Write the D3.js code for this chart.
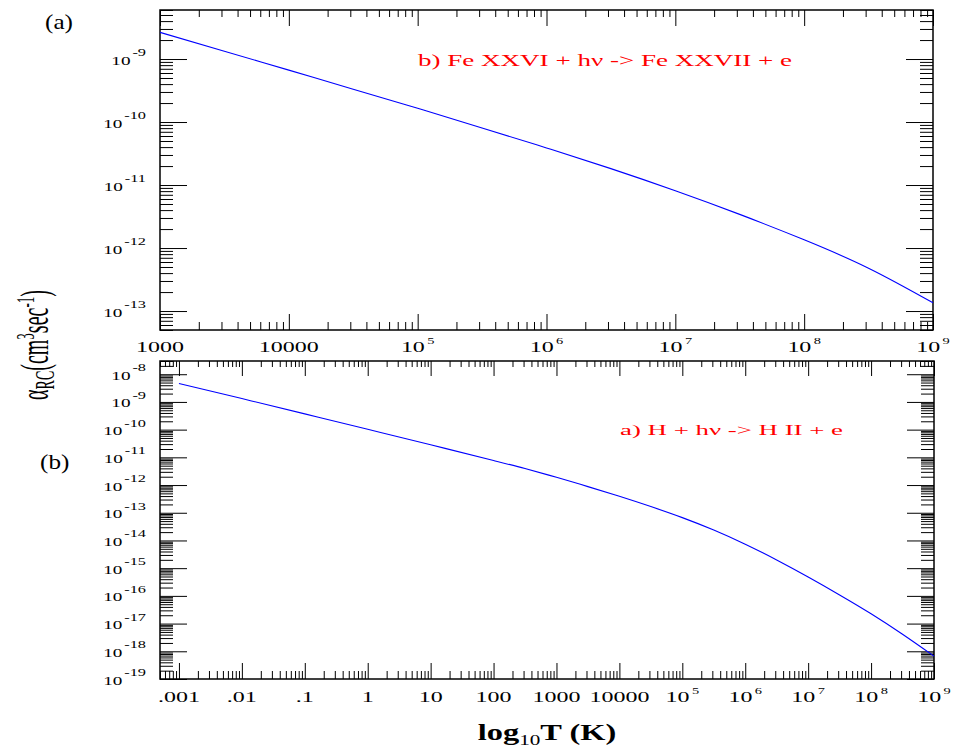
<!DOCTYPE html>
<html><head><meta charset="utf-8">
<script src="https://cdn.jsdelivr.net/npm/d3@7"></script>
<style>body{margin:0;background:#fff}svg{display:block}</style>
</head><body>
<svg id="c" width="957" height="749"></svg>
<script>
// ---- data ----
const feTemp  = [1e3, 3.16e3, 1e4, 3.16e4, 1e5, 3.16e5, 1e6, 3.16e6, 1e7, 3.16e7, 1e8, 3.16e8, 1e9];
const feAlpha = [2.65e-9, 1.33e-9, 6.67e-10, 3.32e-10, 1.65e-10, 8.06e-11, 3.88e-11, 1.82e-11, 8.11e-12, 3.42e-12, 1.35e-12, 4.78e-13, 1.35e-13];

const hTemp  = [1e-3, 1e-2, 1e-1, 1, 10, 100, 316, 1e3, 3.16e3, 1e4, 3.16e4, 1e5, 3.16e5, 1e6, 3.16e6, 1e7, 3.16e7, 1e8, 3.16e8, 1e9];
const hAlpha = [4.61e-9, 1.32e-9, 3.71e-10, 1.03e-10, 2.84e-11, 7.66e-12, 3.93e-12, 1.90e-12, 8.79e-13, 3.93e-13, 1.67e-13, 6.67e-14, 2.37e-14, 7.31e-15, 1.97e-15, 4.78e-16, 1.08e-16, 2.26e-17, 4.11e-18, 6.67e-19];

const topXTickValues = [1e3, 1e4, 1e5, 1e6, 1e7, 1e8, 1e9];
const topXTickLabels = ["1000", "10000", "10^5", "10^6", "10^7", "10^8", "10^9"];
const topYTickValues = [1e-9, 1e-10, 1e-11, 1e-12, 1e-13];
const topYTickLabels = ["10^-9", "10^-10", "10^-11", "10^-12", "10^-13"];

const botXTickValues = [1e-3, 1e-2, 1e-1, 1, 10, 100, 1e3, 1e4, 1e5, 1e6, 1e7, 1e8, 1e9];
const botXTickLabels = [".001", ".01", ".1", "1", "10", "100", "1000", "10000", "10^5", "10^6", "10^7", "10^8", "10^9"];
const botYTickValues = [1e-8, 1e-9, 1e-10, 1e-11, 1e-12, 1e-13, 1e-14, 1e-15, 1e-16, 1e-17, 1e-18, 1e-19];
const botYTickLabels = ["10^-8", "10^-9", "10^-10", "10^-11", "10^-12", "10^-13", "10^-14", "10^-15", "10^-16", "10^-17", "10^-18", "10^-19"];

const topNote = "b) Fe XXVI + h\u03bd -> Fe XXVII + e";
const botNote = "a) H + h\u03bd -> H II + e";

// ---- drawing ----
const svg = d3.select("#c");
const FONT = "'Liberation Serif','Times New Roman',serif";

function minorTicks(a, b) {
  const out = [];
  for (let p = Math.floor(Math.log10(a)) - 1; p <= Math.ceil(Math.log10(b)); p++) {
    for (let k = 2; k <= 9; k++) {
      const v = k * Math.pow(10, p);
      if (v >= a * 0.9999 && v <= b * 1.0001) out.push(v);
    }
  }
  return out;
}

function richLabel(g, str, x, y, size, sx, anchor, supRatio, supDy) {
  const parts = str.split("^");
  const gg = g.append("g").attr("transform", `translate(${x},${y}) scale(${sx},1)`);
  const t = gg.append("text").attr("text-anchor", anchor)
    .attr("font-family", FONT).attr("font-size", size).attr("fill", "#000");
  t.append("tspan").text(parts[0]);
  if (parts.length > 1) {
    t.append("tspan").attr("font-size", size * supRatio).attr("dy", supDy)
      .attr("dx", size * 0.1).text(parts[1]);
  }
}

function drawAxis(g, axisGen, tx, ty) {
  const a = g.append("g").attr("transform", `translate(${tx},${ty})`).call(axisGen);
  a.select(".domain").remove();
  a.selectAll("line").attr("stroke", "#000").attr("stroke-width", 1);
  a.selectAll("text").remove();
}

function panel(cfg) {
  const {L, R, T, B, xDom, yDom, xVals, xLabels, yVals, yLabels, temp, alpha,
         xMaj, xMin, xTopMaj, xTopMin, xLabY} = cfg;
  const x = d3.scaleLog().domain(xDom).range([L, R]);
  const y = d3.scaleLog().domain(yDom).range([B, T]);
  const g = svg.append("g");
  const xMinor = minorTicks(xDom[0], xDom[1]);
  const yMinor = minorTicks(yDom[0], yDom[1]);

  drawAxis(g, d3.axisBottom(x).tickValues(xMinor).tickSize(-xMin).tickFormat(""), 0, B);
  drawAxis(g, d3.axisBottom(x).tickValues(xVals).tickSize(-xMaj).tickFormat(""), 0, B);
  drawAxis(g, d3.axisTop(x).tickValues(xMinor).tickSize(-xTopMin).tickFormat(""), 0, T);
  drawAxis(g, d3.axisTop(x).tickValues(xVals).tickSize(-xTopMaj).tickFormat(""), 0, T);
  drawAxis(g, d3.axisLeft(y).tickValues(yMinor).tickSize(-13).tickFormat(""), L, 0);
  drawAxis(g, d3.axisLeft(y).tickValues(yVals).tickSize(-27).tickFormat(""), L, 0);
  drawAxis(g, d3.axisRight(y).tickValues(yMinor).tickSize(-13).tickFormat(""), R, 0);
  drawAxis(g, d3.axisRight(y).tickValues(yVals).tickSize(-27).tickFormat(""), R, 0);

  g.append("rect").attr("x", L).attr("y", T).attr("width", R - L).attr("height", B - T)
    .attr("fill", "none").attr("stroke", "#000").attr("stroke-width", 1.5);

  xVals.forEach((v, i) => richLabel(g, xLabels[i], x(v), xLabY, 15, 1.6, "middle", 0.6, -8.5));
  yVals.forEach((v, i) => richLabel(g, yLabels[i], 146, y(v) + 5.5, 12.8, 1.5, "end", 0.85, -8.5));

  const line = d3.line().x((d, i) => x(temp[i])).y((d, i) => y(alpha[i])).curve(d3.curveNatural);
  g.append("path").datum(alpha).attr("d", line)
    .attr("fill", "none").attr("stroke", "#0000ff").attr("stroke-width", 1.1);
  return {x, y, g};
}

const panelA = panel({L: 160, R: 933, T: 10, B: 330, xDom: [1e3, 1e9], yDom: [5e-14, 6e-9],
  xVals: topXTickValues, xLabels: topXTickLabels, yVals: topYTickValues, yLabels: topYTickLabels,
  temp: feTemp, alpha: feAlpha, xMaj: 16, xMin: 8, xTopMaj: 16, xTopMin: 7, xLabY: 352});

const panelB = panel({L: 160, R: 934, T: 361, B: 679, xDom: [5e-4, 1e9], yDom: [1e-19, 3e-8],
  xVals: botXTickValues, xLabels: botXTickLabels, yVals: botYTickValues, yLabels: botYTickLabels,
  temp: hTemp, alpha: hAlpha, xMaj: 16, xMin: 8, xTopMaj: 15, xTopMin: 6, xLabY: 702});

svg.append("text").attr("x", 418).attr("y", 66).attr("font-family", FONT).attr("font-size", 16.5)
  .attr("fill", "#ff0000").attr("textLength", 374).attr("lengthAdjust", "spacingAndGlyphs").text(topNote);
svg.append("text").attr("x", 620).attr("y", 435).attr("font-family", FONT).attr("font-size", 15.5)
  .attr("fill", "#ff0000").attr("textLength", 223).attr("lengthAdjust", "spacingAndGlyphs").text(botNote);

[["(a)", 45, 29], ["(b)", 40, 469]].forEach(([s, x, y]) => {
  svg.append("g").attr("transform", `translate(${x},${y}) scale(1.2,1)`)
    .append("text").attr("font-family", FONT).attr("font-size", 21).attr("fill", "#000").text(s);
});

const xt = svg.append("g").attr("transform", "translate(547,740) scale(1.41,1)")
  .append("text").attr("text-anchor", "middle").attr("font-family", FONT)
  .attr("font-size", 23).attr("font-weight", "bold").attr("fill", "#000");
xt.append("tspan").text("log");
xt.append("tspan").attr("font-size", 15).attr("font-weight", "normal").attr("dy", 5).text("10");
xt.append("tspan").attr("dy", -5).text("T (K)");

const yt = svg.append("g").attr("transform", "translate(48,345) rotate(-90) scale(1,2)")
  .append("text").attr("text-anchor", "middle").attr("font-family", FONT)
  .attr("font-size", 20).attr("fill", "#000");
yt.append("tspan").text("\u03b1");
yt.append("tspan").attr("font-size", 14).attr("dy", 3).text("RC");
yt.append("tspan").attr("dy", -3).text("(cm");
yt.append("tspan").attr("font-size", 13).attr("dy", -7).text("3");
yt.append("tspan").attr("dy", 7).text("sec");
yt.append("tspan").attr("font-size", 13).attr("dy", -7).text("-1");
yt.append("tspan").attr("dy", 7).text(")");
</script>
</body></html>
